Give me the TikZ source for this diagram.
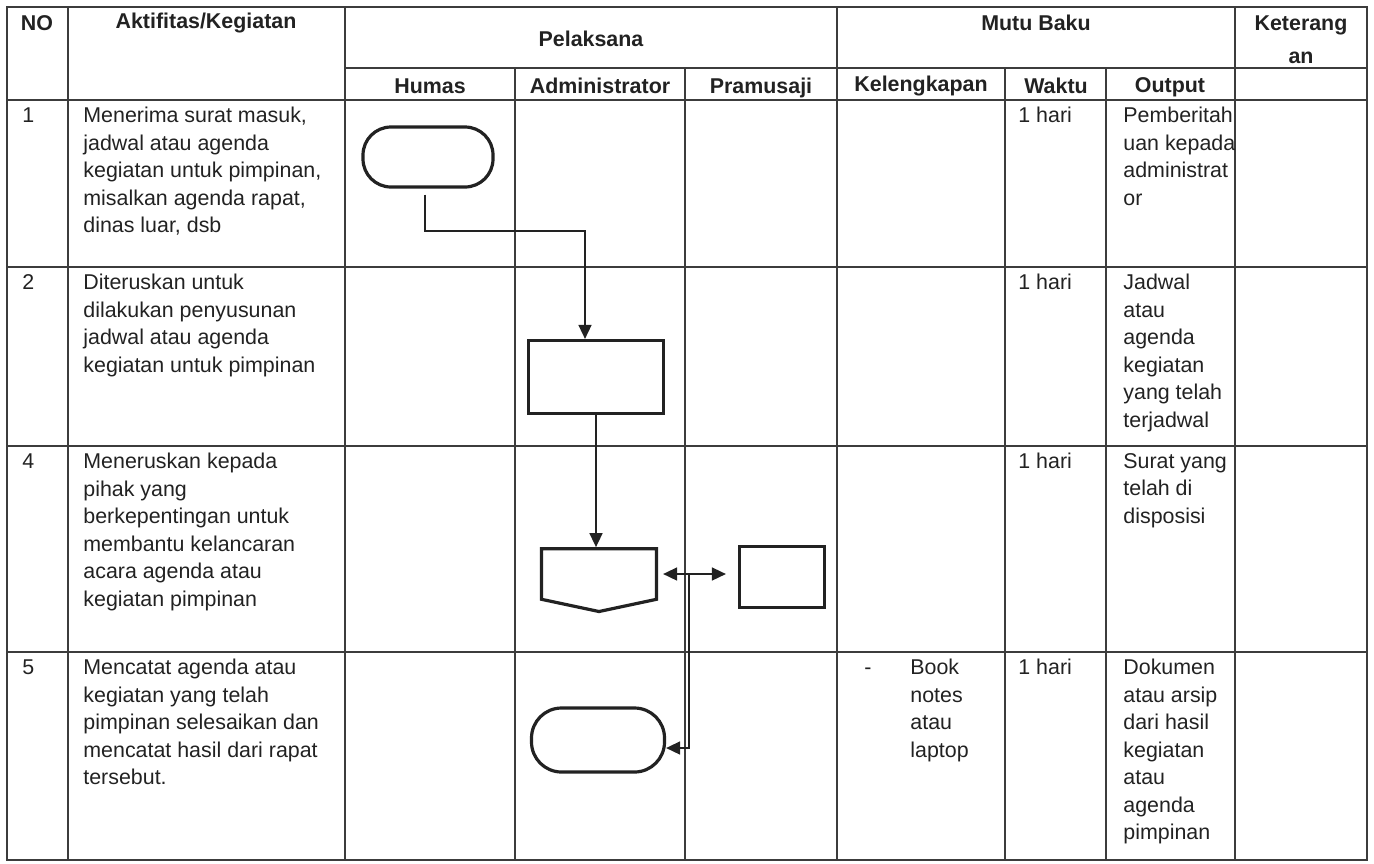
\documentclass[tikz,border=0pt]{standalone}
\usepackage{fontspec}
\setmainfont{Liberation Sans}
\usepackage{xcolor}
\usepackage{tikz}
\usetikzlibrary{arrows.meta,shapes.symbols}
\definecolor{ink}{HTML}{222222}
\definecolor{rulegray}{HTML}{3C3C3C}

\begin{document}
\begin{tikzpicture}[x=0.5pt, y=-0.5pt, >={Triangle[length=7pt,width=6.5pt]},
grid/.style={draw=rulegray, line width=0.8pt},
cell/.style={anchor=north west, inner sep=0pt, align=left, text=ink,
font=\fontsize{10.7}{13.75}\selectfont},
head/.style={inner sep=0pt, align=center, text=ink, font=\fontsize{10.7}{16.5}\selectfont\bfseries},
term/.style={draw=ink, line width=1.6pt, rounded corners=14pt, minimum width=65pt, minimum height=30pt},
proc/.style={draw=ink, line width=1.6pt, minimum width=67.5pt, minimum height=36.5pt},
flow/.style={draw=ink, line width=0.8pt}]
\useasboundingbox (0,0) rectangle (1374,863);

% table frame
\draw[grid] (7,7) rectangle (1367,860);
\draw[grid] (345,68) -- (1367,68);
\draw[grid] (7,100) -- (1367,100) (7,267) -- (1367,267) (7,446) -- (1367,446) (7,652) -- (1367,652);
\draw[grid] (68,7) -- (68,860) (345,7) -- (345,860) (837,7) -- (837,860) (1235,7) -- (1235,860);
\draw[grid] (515,68) -- (515,860) (685,68) -- (685,860) (1005,68) -- (1005,860) (1106,68) -- (1106,860);

% headings
\node[head] (hno) at (37,23) {NO};
\node[head] (hakt) at (206,23) {Aktifitas/Kegiatan};
\node[head] (hpel) at (591,39) {Pelaksana};
\node[head] (hmutu) at (1036,23) {Mutu Baku};
\node[head] (hket) at (1301,40) {Keterang\\an};
\node[head] (hhumas) at (430,86) {Humas};
\node[head] (hadmin) at (600,86) {Administrator};
\node[head] (hpram) at (761,88) {Pramusaji};
\node[head] (hkel) at (921,86) {Kelengkapan};
\node[head] (hwaktu) at (1056,86) {Waktu};
\node[head] (hout) at (1170,87) {Output};

% row 1
\node[cell] (no1) at (22,107) {1};
\node[cell] (akt1) at (83,107) {Menerima surat masuk,\\jadwal atau agenda\\kegiatan untuk pimpinan,\\misalkan agenda rapat,\\dinas luar, dsb};
\node[cell] (wkt1) at (1018,107) {1 hari};
\node[cell] (out1) at (1123,107) {Pemberitah\\uan kepada\\administrat\\or};

% row 2
\node[cell] (no2) at (22,274) {2};
\node[cell] (akt2) at (83,274) {Diteruskan untuk\\dilakukan penyusunan\\jadwal atau agenda\\kegiatan untuk pimpinan};
\node[cell] (wkt2) at (1018,274) {1 hari};
\node[cell] (out2) at (1123,274) {Jadwal\\atau\\agenda\\kegiatan\\yang telah\\terjadwal};

% row 4
\node[cell] (no4) at (22,453) {4};
\node[cell] (akt4) at (83,453) {Meneruskan kepada\\pihak yang\\berkepentingan untuk\\membantu kelancaran\\acara agenda atau\\kegiatan pimpinan};
\node[cell] (wkt4) at (1018,453) {1 hari};
\node[cell] (out4) at (1123,453) {Surat yang\\telah di\\disposisi};

% row 5
\node[cell] (no5) at (22,659) {5};
\node[cell] (akt5) at (83,659) {Mencatat agenda atau\\kegiatan yang telah\\pimpinan selesaikan dan\\mencatat hasil dari rapat\\tersebut.};
\node[cell] (dash5) at (864,659) {\vphantom{B}-};
\node[cell] (kel5) at (910,659) {Book\\notes\\atau\\laptop};
\node[cell] (wkt5) at (1018,659) {1 hari};
\node[cell] (out5) at (1123,659) {Dokumen\\atau arsip\\dari hasil\\kegiatan\\atau\\agenda\\pimpinan};

% flow shapes
\node[term] (start) at (428,157) {};
\node[proc] (susun) at (596,377) {};
\node[draw=ink, line width=1.6pt, shape=signal, signal to=south, signal from=nowhere,
signal pointer angle=156, minimum width=57.5pt, minimum height=26pt] (terus) at (599,574) {};
\node[draw=ink, line width=1.6pt, minimum width=42.5pt, minimum height=30.5pt] (pihak) at (782,577) {};
\node[term, minimum width=66.5pt, minimum height=32pt, rounded corners=15pt] (catat) at (598,740) {};

\coordinate (bend) at (585,231);
\coordinate (tap) at (689,574);
\draw[flow, ->] ([shift={(-1.5pt,-3pt)}]start.south) |- (bend) -- (bend |- susun.north);
\draw[flow, ->] (susun.south) -- (susun.south |- terus.north);
\draw[flow, <->, shorten <=2.5pt, shorten >=6pt] (terus.east) -- (terus.east -| pihak.west);
\draw[flow, ->] (tap) |- ([yshift=-4pt]catat.east);
\end{tikzpicture}
\end{document}
